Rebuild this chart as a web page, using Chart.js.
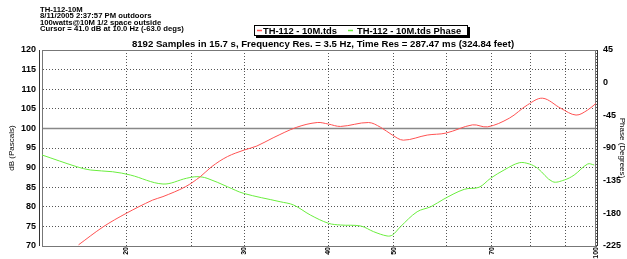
<!DOCTYPE html>
<html>
<head>
<meta charset="utf-8">
<script src="https://cdn.jsdelivr.net/npm/chart.js@4"></script>
<style>
  html, body { margin: 0; padding: 0; background: #fff; }
  #wrap { width: 627px; height: 259px; position: relative; }
</style>
</head>
<body>
<div id="wrap"><canvas id="chart" width="627" height="259"></canvas></div>
<script>
// magnitude curve (Hz, dB)
const magFreqs = [17.0, 18.5, 20.0, 21.9, 22.7, 24.5, 25.8, 26.8, 28.3, 30.0, 31.3, 33.1, 35.9, 38.5, 40.0, 41.7,
    45.9, 47.8, 49.8, 51.7, 56.1, 59.8, 65.5, 69.0, 74.3, 79.1, 83.3, 88.7, 93.4, 97.2, 100];
const magValues = [70.3, 74.9, 78.3, 81.7, 82.6, 85.1, 87.7, 90.2, 92.8, 94.5, 95.5, 97.6, 100.3, 101.5, 101.1, 100.5,
    101.5, 100.3, 98.3, 97.0, 98.3, 98.8, 100.9, 100.4, 102.6, 106.0, 107.7, 105.1, 103.4, 104.7, 106.4];

// phase curve (Hz, degrees)
const phaseFreqs = [15.0, 16.9, 17.7, 19.1, 20.3, 22.7, 24.6, 25.5, 26.4, 28.3, 29.9, 33.9, 35.5, 37.6, 40.0, 41.7,
    44.7, 46.7, 48.9, 49.8, 51.2, 54.2, 56.8, 59.4, 63.7, 67.0, 69.7, 73.0, 76.9, 79.6, 81.9, 86.2, 89.7, 92.8, 97.2, 99.4];
const phaseValues = [-99.6, -115.8, -120.3, -122.7, -127.2, -139.6, -131.7, -129.5, -131.7, -143.3, -152.4, -164.0, -168.5,
    -182.3, -193.7, -196.1, -197.5, -205.3, -211.2, -209.9, -198.4, -177.8, -170.9, -160.3, -146.9, -144.1, -131.7,
    -120.3, -110.3, -112.0, -118.0, -136.4, -134.1, -127.2, -112.0, -113.4];

const freqGrid = [20, 25, 30, 40, 50, 60, 70, 80, 90, 100];
const freqLabels = [20, 30, 40, 50, 70, 100];

const headerLines = [
    'TH-112-10M',
    '8/11/2005 2:37:57 PM outdoors',
    '100watts@10M 1/2 space outside',
    'Cursor = 41.0 dB at 10.0 Hz (-63.0 degs)'
];
const plotTitle = '8192 Samples in 15.7 s, Frequency Res. = 3.5 Hz, Time Res = 287.47 ms (324.84 feet)';
const seriesNames = ['TH-112 - 10M.tds', 'TH-112 - 10M.tds Phase'];
const seriesColors = ['#ff5252', '#6aee3e'];

const FONT = '"Liberation Sans", Arial, sans-serif';
const gridColor = '#555';

const decorations = {
    id: 'decorations',
    beforeDatasetsDraw(chart) {
        const ctx = chart.ctx;
        const a = chart.chartArea;
        const y = chart.scales.y;
        ctx.save();
        // solid reference line at 100 dB
        ctx.strokeStyle = '#888';
        ctx.lineWidth = 1.5;
        ctx.beginPath();
        const py = Math.round(y.getPixelForValue(100)) + 0.5;
        ctx.moveTo(a.left, py);
        ctx.lineTo(a.right, py);
        ctx.stroke();
        // frame
        ctx.strokeStyle = '#777';
        ctx.lineWidth = 1;
        ctx.strokeRect(a.left + 0.5, a.top + 0.5, a.right - a.left - 1, a.bottom - a.top);
        ctx.strokeStyle = '#333';
        ctx.beginPath();
        ctx.moveTo(a.left - 2.5, a.top);
        ctx.lineTo(a.left - 2.5, a.bottom);
        ctx.moveTo(a.right + 1.5, a.top);
        ctx.lineTo(a.right + 1.5, a.bottom);
        ctx.stroke();
        ctx.restore();
    },
    afterDraw(chart) {
        const ctx = chart.ctx;
        ctx.save();
        ctx.fillStyle = '#000';
        ctx.textBaseline = 'middle';
        ctx.textAlign = 'left';
        ctx.font = 'bold 7.7px ' + FONT;
        headerLines.forEach((t, i) => ctx.fillText(t, 40, 9.5 + i * 6.6));

        // legend box
        ctx.fillStyle = '#000';
        ctx.fillRect(256, 27, 214, 11);
        ctx.fillStyle = '#fff';
        ctx.fillRect(254, 25, 214, 11);
        ctx.strokeStyle = '#000';
        ctx.lineWidth = 1;
        ctx.strokeRect(254.5, 25.5, 213, 10);
        ctx.font = 'bold 9.4px ' + FONT;
        const items = [[257, 263], [348, 357]];
        items.forEach((p, i) => {
            ctx.strokeStyle = seriesColors[i];
            ctx.lineWidth = 1.5;
            ctx.beginPath();
            ctx.moveTo(p[0], 30.5);
            ctx.lineTo(p[0] + 5, 30.5);
            ctx.stroke();
            ctx.fillStyle = '#000';
            ctx.fillText(seriesNames[i], p[1], 31);
        });

        ctx.textAlign = 'center';
        ctx.font = 'bold 9.6px ' + FONT;
        ctx.fillText(plotTitle, 323, 44);
        ctx.restore();
    }
};

new Chart(document.getElementById('chart'), {
    type: 'line',
    data: {
        datasets: [{
            label: seriesNames[0],
            data: magFreqs.map((f, i) => ({ x: f, y: magValues[i] })),
            borderColor: seriesColors[0],
            borderWidth: 1,
            pointRadius: 0,
            tension: 0.35,
            yAxisID: 'y'
        }, {
            label: seriesNames[1],
            data: phaseFreqs.map((f, i) => ({ x: f, y: phaseValues[i] })),
            borderColor: seriesColors[1],
            borderWidth: 1,
            pointRadius: 0,
            tension: 0.35,
            yAxisID: 'y2'
        }]
    },
    options: {
        responsive: false,
        animation: false,
        layout: { padding: { top: 50, left: 0, right: 0, bottom: 0 } },
        plugins: {
            legend: { display: false },
            tooltip: { enabled: false }
        },
        scales: {
            x: {
                type: 'logarithmic',
                min: 15,
                max: 100,
                afterBuildTicks(scale) {
                    scale.ticks = freqGrid.map(v => ({ value: v }));
                },
                afterFit(scale) { scale.height = 13; },
                ticks: {
                    autoSkip: false,
                    minRotation: 90,
                    maxRotation: 90,
                    padding: 1,
                    color: '#000',
                    font: { family: FONT, size: 7, weight: 'bold' },
                    callback: v => freqLabels.includes(v) ? String(v) : ''
                },
                grid: { color: gridColor, lineWidth: 1, drawTicks: false },
                border: { display: true, color: '#555', dash: [1, 2] }
            },
            y: {
                position: 'left',
                min: 70,
                max: 120,
                afterFit(scale) { scale.width = 42; },
                ticks: {
                    stepSize: 5,
                    padding: 6,
                    color: '#000',
                    font: { family: FONT, size: 9, weight: 'bold' }
                },
                title: {
                    display: true,
                    text: 'dB (Pascals)',
                    color: '#000',
                    padding: { top: 7, bottom: 0 },
                    font: { family: FONT, size: 8 }
                },
                grid: { color: gridColor, lineWidth: 1, drawTicks: false },
                border: { display: true, color: '#555', dash: [1, 2] }
            },
            y2: {
                position: 'right',
                min: -225,
                max: 45,
                afterFit(scale) { scale.width = 31; },
                ticks: {
                    stepSize: 45,
                    padding: 7,
                    color: '#000',
                    font: { family: FONT, size: 9, weight: 'bold' }
                },
                title: {
                    display: true,
                    text: 'Phase (Degrees)',
                    color: '#000',
                    padding: 0,
                    font: { family: FONT, size: 8 }
                },
                grid: { display: false, drawTicks: false },
                border: { display: false }
            }
        }
    },
    plugins: [decorations]
});
</script>
</body>
</html>
